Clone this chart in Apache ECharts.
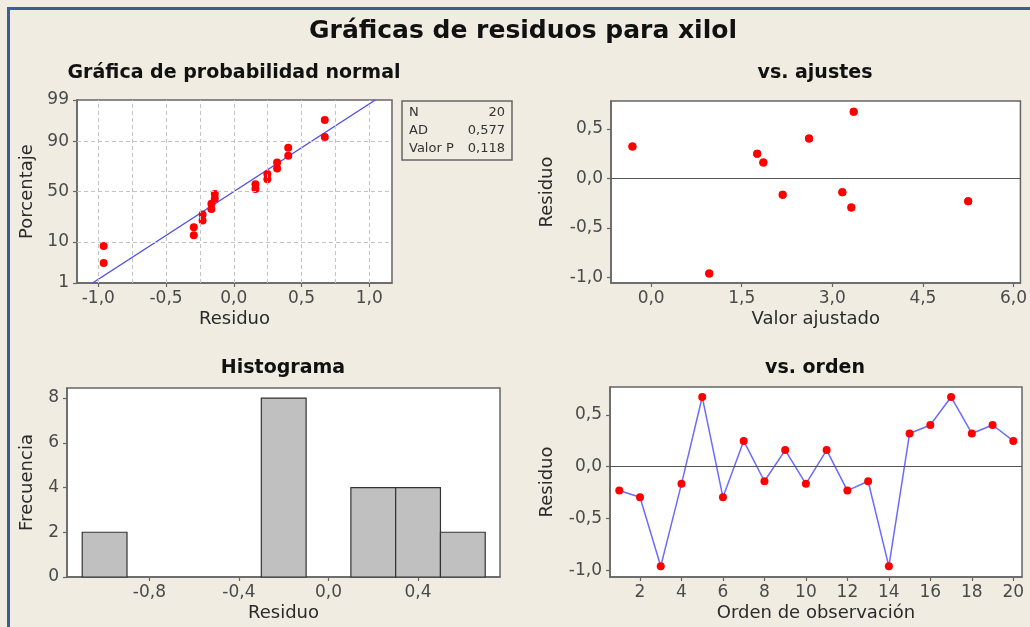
<!DOCTYPE html>
<html>
<head>
<meta charset="utf-8">
<script src="https://cdn.jsdelivr.net/npm/echarts@6/dist/echarts.min.js"></script>
<style>
  html, body { margin: 0; padding: 0; background: #f0ece2; }
  #chart { width: 1030px; height: 627px; }
</style>
</head>
<body>
<div id="chart"></div>
<script>
// ---- Texts ----
const mainTitle = 'Gráficas de residuos para xilol';
const panelTitles = ['Gráfica de probabilidad normal', 'vs. ajustes', 'Histograma', 'vs. orden'];

// ---- Data: one residual and one fitted value per observation ----
const observationOrder = [1, 2, 3, 4, 5, 6, 7, 8, 9, 10, 11, 12, 13, 14, 15, 16, 17, 18, 19, 20];
const residuals = [-0.230, -0.295, -0.960, -0.165, 0.672, -0.295, 0.248, -0.140, 0.160, -0.165,
                   0.160, -0.230, -0.140, -0.960, 0.320, 0.402, 0.672, 0.320, 0.402, 0.248];
const fittedValues = [5.250, 3.315, 0.962, 2.178, 3.354, 3.315, 1.756, 3.166, 1.858, 2.178,
                      1.858, 5.250, 3.166, 0.962, -0.310, 2.615, 3.354, -0.310, 2.615, 1.756];

// ---- Histogram bins ----
const histBinCenters = [-1.0, -0.8, -0.6, -0.4, -0.2, 0.0, 0.2, 0.4, 0.6];
const histCounts = [2, 0, 0, 0, 8, 0, 4, 4, 2];

// ---- Normality test summary ----
const statLabels = ['N', 'AD', 'Valor P'];
const statValues = ['20', '0,577', '0,118'];

// ---- Tick values ----
const probTicks = [1, 10, 50, 90, 99];
const probGridTicks = [10, 50, 90];
const normXTicks = [-1.0, -0.5, 0.0, 0.5, 1.0];
const normXGrid = [-1.0, -0.75, -0.5, -0.25, 0.0, 0.25, 0.5, 0.75, 1.0];
const residTicks = [-1.0, -0.5, 0.0, 0.5];
const fittedTicks = [0.0, 1.5, 3.0, 4.5, 6.0];
const histXTicks = [-0.8, -0.4, 0.0, 0.4];
const histYTicks = [0, 2, 4, 6, 8];
const orderTicks = [2, 4, 6, 8, 10, 12, 14, 16, 18, 20];

// Inverse standard normal CDF (Acklam)
function invNorm(p) {
  const a = [-3.969683028665376e+01, 2.209460984245205e+02, -2.759285104469687e+02, 1.383577518672690e+02, -3.066479806614716e+01, 2.506628277459239e+00];
  const b = [-5.447609879822406e+01, 1.615858368580409e+02, -1.556989798598866e+02, 6.680131188771972e+01, -1.328068155288572e+01];
  const c = [-7.784894002430293e-03, -3.223964580411365e-01, -2.400758277161838e+00, -2.549732539343734e+00, 4.374664141464968e+00, 2.938163982698783e+00];
  const d = [7.784695709041462e-03, 3.224671290700398e-01, 2.445134137142996e+00, 3.754408661907416e+00];
  const pl = 0.02425, ph = 1 - pl;
  let q, r;
  if (p < pl) {
    q = Math.sqrt(-2 * Math.log(p));
    return (((((c[0]*q+c[1])*q+c[2])*q+c[3])*q+c[4])*q+c[5]) / ((((d[0]*q+d[1])*q+d[2])*q+d[3])*q+1);
  }
  if (p <= ph) {
    q = p - 0.5; r = q * q;
    return (((((a[0]*r+a[1])*r+a[2])*r+a[3])*r+a[4])*r+a[5])*q / (((((b[0]*r+b[1])*r+b[2])*r+b[3])*r+b[4])*r+1);
  }
  q = Math.sqrt(-2 * Math.log(1 - p));
  return -(((((c[0]*q+c[1])*q+c[2])*q+c[3])*q+c[4])*q+c[5]) / ((((d[0]*q+d[1])*q+d[2])*q+d[3])*q+1);
}

const fmt1 = v => v.toFixed(1).replace('.', ',');

// Normal probability plot: sorted residuals against median-rank percentiles
const n = residuals.length;
const sortedRes = residuals.slice().sort((x, y) => x - y);
const probPoints = sortedRes.map((v, i) => [v, invNorm((i + 1 - 0.3) / (n + 0.4))]);
const mean = residuals.reduce((s, v) => s + v, 0) / n;
const sd = Math.sqrt(residuals.reduce((s, v) => s + (v - mean) * (v - mean), 0) / (n - 1));
const zLo = invNorm(probTicks[0] / 100), zHi = invNorm(probTicks[probTicks.length - 1] / 100);
const fitLine = [[mean + sd * zLo, zLo], [mean + sd * zHi, zHi]];
const probZTicks = probTicks.map(p => invNorm(p / 100));
const probLabelOf = {};
probTicks.forEach((p, i) => { probLabelOf[probZTicks[i].toFixed(6)] = String(p); });

const FONT = '"DejaVu Sans", Verdana, sans-serif';
const frameColor = '#666666';
const labelStyle = { color: '#4a4a4a', fontSize: 17, fontFamily: FONT };
const nameStyle = { color: '#2a2a2a', fontSize: 18, fontFamily: FONT };
const dotStyle = { color: '#ff0000', opacity: 1 };

function axis(opts) {
  return Object.assign({
    type: 'value',
    scale: true,
    axisLine: { show: true, onZero: false, lineStyle: { color: frameColor, width: 1.5 } },
    axisTick: { show: true, length: 4, inside: false, lineStyle: { color: frameColor, width: 1.2 } },
    splitLine: { show: false },
    nameLocation: 'middle',
    nameTextStyle: nameStyle
  }, opts);
}

const grids = [
  { left: 77,  top: 100, width: 315, height: 183 },
  { left: 611, top: 101, width: 411, height: 182 },
  { left: 67,  top: 388, width: 433, height: 189 },
  { left: 610, top: 387, width: 412, height: 190 }
].map(g => Object.assign({ show: true, backgroundColor: '#ffffff', borderColor: frameColor, borderWidth: 1.5 }, g));

const option = {
  backgroundColor: '#f0ece2',
  animation: false,
  grid: grids,
  xAxis: [
    axis({ gridIndex: 0, min: -1.157, max: 1.168, name: 'Residuo', nameGap: 27,
           axisTick: { show: true, length: 4, customValues: normXTicks, lineStyle: { color: frameColor, width: 1.2 } },
           axisLabel: Object.assign({ margin: 7, customValues: normXTicks, formatter: fmt1 }, labelStyle) }),
    axis({ gridIndex: 1, min: -0.665, max: 6.115, name: 'Valor ajustado', nameGap: 27,
           axisTick: { show: true, length: 4, customValues: fittedTicks, lineStyle: { color: frameColor, width: 1.2 } },
           axisLabel: Object.assign({ margin: 7, customValues: fittedTicks, formatter: fmt1 }, labelStyle) }),
    axis({ gridIndex: 2, min: -1.168, max: 0.766, name: 'Residuo', nameGap: 27,
           axisTick: { show: true, length: 4, customValues: histXTicks, lineStyle: { color: frameColor, width: 1.2 } },
           axisLabel: Object.assign({ margin: 7, customValues: histXTicks, formatter: fmt1 }, labelStyle) }),
    axis({ gridIndex: 3, min: 0.553, max: 20.42, name: 'Orden de observación', nameGap: 27,
           axisTick: { show: true, length: 4, customValues: orderTicks, lineStyle: { color: frameColor, width: 1.2 } },
           axisLabel: Object.assign({ margin: 7, customValues: orderTicks, formatter: v => String(v) }, labelStyle) })
  ],
  yAxis: [
    axis({ gridIndex: 0, min: zLo, max: zHi, name: 'Porcentaje', nameGap: 41,
           axisTick: { show: true, length: 4, customValues: probZTicks, lineStyle: { color: frameColor, width: 1.2 } },
           axisLabel: Object.assign({ margin: 8, customValues: probZTicks, formatter: v => probLabelOf[v.toFixed(6)] || '' }, labelStyle) }),
    axis({ gridIndex: 1, min: -1.055, max: 0.78, name: 'Residuo', nameGap: 55,
           axisTick: { show: true, length: 4, customValues: residTicks, lineStyle: { color: frameColor, width: 1.2 } },
           axisLabel: Object.assign({ margin: 8, customValues: residTicks, formatter: fmt1 }, labelStyle) }),
    axis({ gridIndex: 2, min: 0, max: 8.45, name: 'Frecuencia', nameGap: 31,
           axisTick: { show: true, length: 4, customValues: histYTicks, lineStyle: { color: frameColor, width: 1.2 } },
           axisLabel: Object.assign({ margin: 8, customValues: histYTicks, formatter: v => String(v) }, labelStyle) }),
    axis({ gridIndex: 3, min: -1.063, max: 0.768, name: 'Residuo', nameGap: 54,
           axisTick: { show: true, length: 4, customValues: residTicks, lineStyle: { color: frameColor, width: 1.2 } },
           axisLabel: Object.assign({ margin: 8, customValues: residTicks, formatter: fmt1 }, labelStyle) })
  ],
  series: [
    // Dashed reference grid of the probability plot
    {
      type: 'line', xAxisIndex: 0, yAxisIndex: 0, data: [], z: 1, silent: true,
      markLine: {
        silent: true, symbol: 'none', animation: false, label: { show: false },
        lineStyle: { color: '#c4c4c4', width: 1, type: [4, 3] },
        data: normXGrid.map(v => ({ xAxis: v })).concat(probGridTicks.map(p => ({ yAxis: invNorm(p / 100) })))
      }
    },
    // Fitted normal line
    {
      type: 'line', xAxisIndex: 0, yAxisIndex: 0, data: fitLine, z: 2, silent: true,
      symbol: 'none', lineStyle: { color: '#4d4df0', width: 1.4 }, clip: true
    },
    // Residual percentiles
    {
      type: 'scatter', xAxisIndex: 0, yAxisIndex: 0, data: probPoints, z: 3,
      symbol: 'circle', symbolSize: 8, itemStyle: dotStyle
    },
    // Residuals versus fitted values
    {
      type: 'scatter', xAxisIndex: 1, yAxisIndex: 1, z: 3,
      data: fittedValues.map((f, i) => [f, residuals[i]]),
      symbol: 'circle', symbolSize: 8, itemStyle: dotStyle,
      markLine: {
        silent: true, symbol: 'none', animation: false, label: { show: false },
        lineStyle: { color: '#555555', width: 1.2, type: 'solid' },
        data: [{ yAxis: 0 }]
      }
    },
    // Histogram of residuals
    {
      type: 'custom', xAxisIndex: 2, yAxisIndex: 2, z: 2,
      data: histBinCenters.map((c, i) => [c, histCounts[i]]).filter(d => d[1] > 0),
      renderItem: function (params, api) {
        const half = (histBinCenters[1] - histBinCenters[0]) / 2;
        const c = api.value(0), h = api.value(1);
        const p0 = api.coord([c - half, h]);
        const p1 = api.coord([c + half, 0]);
        return {
          type: 'rect',
          shape: { x: p0[0], y: p0[1], width: p1[0] - p0[0], height: p1[1] - p0[1] },
          style: { fill: '#c0c0c0', stroke: '#333333', lineWidth: 1.2 }
        };
      }
    },
    // Residuals versus observation order
    {
      type: 'line', xAxisIndex: 3, yAxisIndex: 3, z: 3,
      data: observationOrder.map((o, i) => [o, residuals[i]]),
      symbol: 'circle', symbolSize: 8, showAllSymbol: true,
      itemStyle: dotStyle,
      lineStyle: { color: '#6b6bff', width: 1.5 },
      markLine: {
        silent: true, symbol: 'none', animation: false, label: { show: false },
        lineStyle: { color: '#555555', width: 1.2, type: 'solid' },
        data: [{ yAxis: 0 }]
      }
    }
  ],
  graphic: [
    // outer window frame
    { type: 'rect', z: 0, silent: true,
      shape: { x: 8.5, y: 8.5, width: 1100, height: 700 },
      style: { fill: 'none', stroke: '#3b5f94', lineWidth: 3 } },
    { type: 'text', silent: true,
      style: { text: mainTitle, x: 523, y: 31, textAlign: 'center', textVerticalAlign: 'middle',
               font: 'bold 25px ' + FONT, fill: '#111111' } },
    { type: 'text', silent: true,
      style: { text: panelTitles[0], x: 234, y: 73, textAlign: 'center', textVerticalAlign: 'middle',
               font: 'bold 19px ' + FONT, fill: '#111111' } },
    { type: 'text', silent: true,
      style: { text: panelTitles[1], x: 815, y: 73, textAlign: 'center', textVerticalAlign: 'middle',
               font: 'bold 19px ' + FONT, fill: '#111111' } },
    { type: 'text', silent: true,
      style: { text: panelTitles[2], x: 283, y: 368, textAlign: 'center', textVerticalAlign: 'middle',
               font: 'bold 19px ' + FONT, fill: '#111111' } },
    { type: 'text', silent: true,
      style: { text: panelTitles[3], x: 815, y: 368, textAlign: 'center', textVerticalAlign: 'middle',
               font: 'bold 19px ' + FONT, fill: '#111111' } },
    // normality test summary box
    { type: 'rect', silent: true,
      shape: { x: 402, y: 101, width: 110, height: 59 },
      style: { fill: 'none', stroke: '#666666', lineWidth: 1.5 } }
  ].concat(statLabels.map((t, i) => ({
      type: 'text', silent: true,
      style: { text: t, x: 409, y: 113 + i * 18, textAlign: 'left', textVerticalAlign: 'middle',
               font: '13px ' + FONT, fill: '#333333' } })))
   .concat(statValues.map((t, i) => ({
      type: 'text', silent: true,
      style: { text: t, x: 505, y: 113 + i * 18, textAlign: 'right', textVerticalAlign: 'middle',
               font: '13px ' + FONT, fill: '#333333' } })))
};

const chart = echarts.init(document.getElementById('chart'), null, { renderer: 'canvas' });
chart.setOption(option);
</script>
</body>
</html>
